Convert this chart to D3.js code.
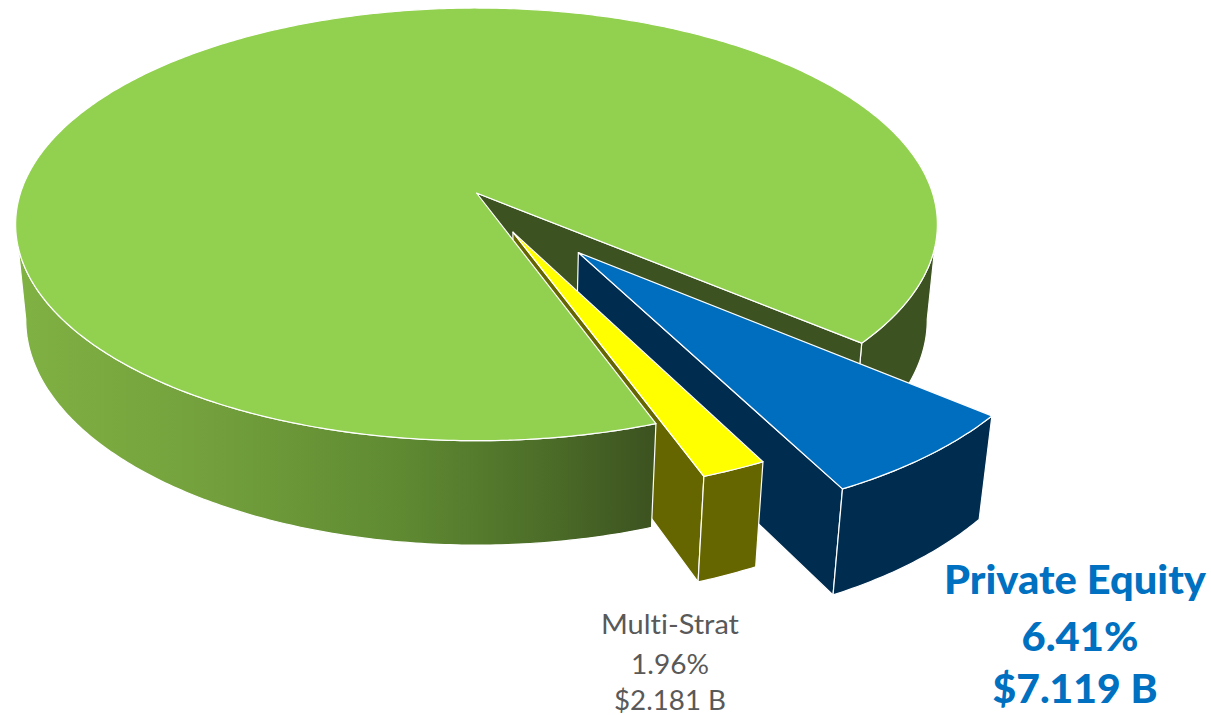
<!DOCTYPE html>
<html>
<head>
<meta charset="utf-8">
<script src="https://cdn.jsdelivr.net/npm/d3@7/dist/d3.min.js"></script>
<style>
  html, body { margin: 0; padding: 0; background: #fff; }
  svg { display: block; }
  text { font-variant-ligatures: none; }
</style>
</head>
<body>
<svg id="chart" width="1211" height="715"></svg>
<script>
// Allocation shares, in percent
const categories = ["Private Equity", "Multi-Strat", "Other Holdings"];
const shares = [6.41, 1.96, 91.63];
const explode = [0.345, 0.196, 0];
const topColors = ["#006EBF", "#FFFF00", "#92D050"];
const sideColors = ["#002C4F", "#666600", "#3C5220"];
const labelLines = [
  ["Private Equity", "6.41%", "$7.119 B"],
  ["Multi-Strat", "1.96%", "$2.181 B"]
];

const W = 1211, H = 715;
const svg = d3.select("#chart").attr("viewBox", [0, 0, W, H]);

// Perspective view of a tilted disc: unit-disc coordinates to the page
const view = { cx: 476.5, cy: 193, rx: 456, ry: 211.8, k: 0.145, depth: 97, m: 0.022 };
function project(u, v, z) {
  const w = 1 - view.k * v + view.m * z;
  return [view.cx + view.rx * u / w, view.cy + (view.ry * v + view.depth * z) / w];
}

const pie = d3.pie().sort(null).value(d => d)
  .startAngle(130 * Math.PI / 180)
  .endAngle((130 + 360) * Math.PI / 180);
const arcs = pie(shares);

// Slices are pulled out along their bisector
const offsets = arcs.map((a, i) => {
  const mid = (a.startAngle + a.endAngle) / 2;
  return [explode[i] * Math.sin(mid), -explode[i] * Math.cos(mid)];
});

const rim = (i, a, z) => project(offsets[i][0] + Math.sin(a), offsets[i][1] - Math.cos(a), z);
const apex = (i, z) => project(offsets[i][0], offsets[i][1], z);
const path = d3.line();
const sample = (a0, a1) => {
  const n = Math.max(2, Math.ceil(Math.abs(a1 - a0) * 90));
  return d3.range(n + 1).map(j => a0 + (a1 - a0) * j / n);
};

const defs = svg.append("defs");
const grad = defs.append("linearGradient").attr("id", "wallShade")
  .attr("gradientUnits", "userSpaceOnUse")
  .attr("x1", 20).attr("x2", 655).attr("y1", 0).attr("y2", 0);
[[0, "#80B143"], [0.3, "#73A03C"], [0.6, "#5F8A32"], [0.85, "#4A6A27"], [1, "#3C5220"]]
  .forEach(([o, c]) => grad.append("stop").attr("offset", o).attr("stop-color", c));

function poly(points, fill) {
  svg.append("path").attr("d", path(points) + "Z")
    .attr("fill", fill)
    .attr("stroke", "#fff").attr("stroke-width", 1.2).attr("stroke-linejoin", "round");
}
const topFace = i => [apex(i, 0), ...sample(arcs[i].startAngle, arcs[i].endAngle).map(a => rim(i, a, 0))];
const radialWall = (i, a) => [apex(i, 0), rim(i, a, 0), rim(i, a, 1), apex(i, 1)];
const outerWall = (i, a0, a1) => {
  const s = sample(a0, a1);
  return [...s.map(a => rim(i, a, 0)), ...s.slice().reverse().map(a => rim(i, a, 1))];
};

const deg = Math.PI / 180;
const G = 2, B = 0, Y = 1;

// Painter's order, back to front
poly(outerWall(G, 98 * deg, arcs[B].startAngle), sideColors[G]);
poly(radialWall(G, arcs[B].startAngle), sideColors[G]);

poly(radialWall(B, arcs[B].endAngle), sideColors[B]);
poly(outerWall(B, arcs[B].startAngle, arcs[B].endAngle), sideColors[B]);
poly(topFace(B), topColors[B]);

poly(radialWall(Y, arcs[Y].endAngle), sideColors[Y]);
poly(outerWall(Y, arcs[Y].startAngle, arcs[Y].endAngle), sideColors[Y]);

poly(outerWall(G, arcs[G].startAngle, 262 * deg), "url(#wallShade)");
poly(topFace(G), topColors[G]);
poly(topFace(Y), topColors[Y]);

// Callouts
const callouts = [
  { lines: labelLines[0], xs: [1075, 1080, 1075], ys: [594, 651, 703], size: 39, weight: 900, fill: "#0070C0", widths: [262, 117, 165] },
  { lines: labelLines[1], xs: [670, 670, 670], ys: [634, 674, 709.5], size: 26, weight: 400, fill: "#595959", widths: [138, 78, 112] }
];
callouts.forEach(c => c.lines.forEach((t, i) => {
  svg.append("text")
    .attr("x", c.xs[i]).attr("y", c.ys[i])
    .attr("text-anchor", "middle")
    .attr("font-family", "Lato, 'Open Sans', sans-serif")
    .attr("font-size", c.size).attr("font-weight", c.weight)
    .attr("fill", c.fill)
    .attr("textLength", c.widths[i]).attr("lengthAdjust", "spacingAndGlyphs")
    .text(t);
}));
</script>
</body>
</html>
